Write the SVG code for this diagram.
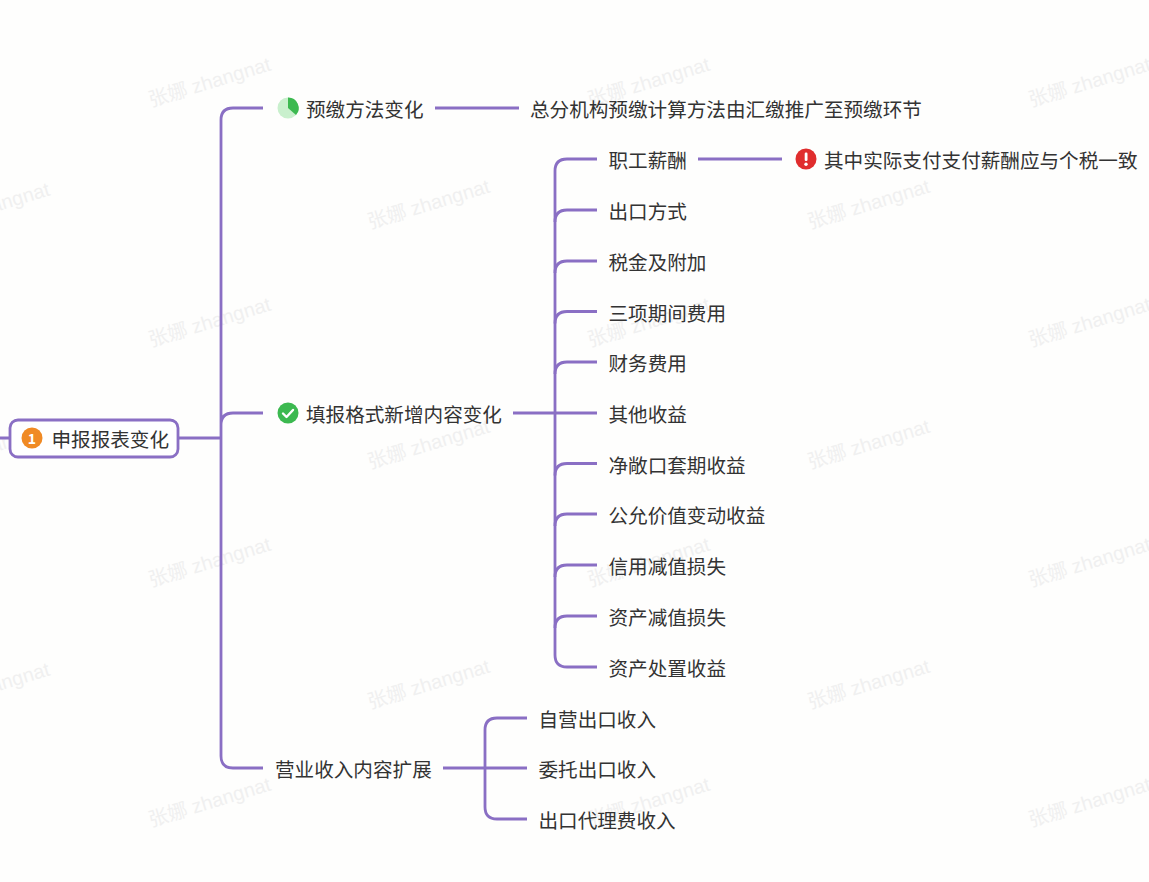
<svg xmlns="http://www.w3.org/2000/svg" width="1149" height="882" viewBox="0 0 1149 882">
<style>
text{font-family:"Noto Sans CJK SC","Liberation Sans",sans-serif}
.t{font-size:19.6px;fill:#333}
.w{font-size:19.8px;fill:#f0f0f0;font-family:"Liberation Sans","Noto Sans CJK SC",sans-serif}
.c{fill:none;stroke:#8a6fc4;stroke-width:2.8;stroke-linecap:butt}
</style>
<defs><text id="wm" class="w" transform="rotate(-17)">张娜 zhangnat</text></defs>
<rect width="1149" height="882" fill="#fefefd"/>
<g id="watermarks">
<use href="#wm" transform="translate(151 107)"/>
<use href="#wm" transform="translate(590 107)"/>
<use href="#wm" transform="translate(1031 107)"/>
<use href="#wm" transform="translate(-70 232)"/>
<use href="#wm" transform="translate(370 229)"/>
<use href="#wm" transform="translate(810 229)"/>
<use href="#wm" transform="translate(151 347)"/>
<use href="#wm" transform="translate(590 347)"/>
<use href="#wm" transform="translate(1031 347)"/>
<use href="#wm" transform="translate(370 469)"/>
<use href="#wm" transform="translate(810 469)"/>
<use href="#wm" transform="translate(-70 472)"/>
<use href="#wm" transform="translate(151 587)"/>
<use href="#wm" transform="translate(590 587)"/>
<use href="#wm" transform="translate(1031 587)"/>
<use href="#wm" transform="translate(-70 712)"/>
<use href="#wm" transform="translate(370 709)"/>
<use href="#wm" transform="translate(810 709)"/>
<use href="#wm" transform="translate(151 827)"/>
<use href="#wm" transform="translate(590 827)"/>
<use href="#wm" transform="translate(1031 827)"/>
</g>
<g id="connectors">
<path class="c" d="M0 438H9M179 438H221M263 108H233Q221 108 221 120V756Q221 768 233 768H263M263 413H233Q221 413 221 425"/>
<path class="c" d="M435 108H519M513 413H597M698 159H782"/>
<path class="c" d="M597 159H567Q555 159 555 171V655Q555 667 567 667H597"/>
<path class="c" d="M597 210H567Q555 210 555 222M597 261H567Q555 261 555 273M597 311.500H567Q555 311.500 555 323.500M597 362H567Q555 362 555 374M597 463.500H567Q555 463.500 555 475.500M597 514H567Q555 514 555 526M597 565H567Q555 565 555 577M597 616H567Q555 616 555 628"/>
<path class="c" d="M443 768H527M527 718H497Q485 718 485 730V807Q485 819 497 819H527"/>
</g>
<g id="root">
<rect x="10" y="420" width="168" height="37" rx="8" fill="#fff" stroke="#8a6fc4" stroke-width="2.800"/>
<circle cx="32" cy="438" r="10.500" fill="#f08a24"/>
<text x="32" y="443.500" text-anchor="middle" style="font-size:14px;font-weight:700;fill:#fff">1</text>
<text class="t" x="51.500" y="447">申报报表变化</text>
</g>
<g id="n-prepay">
<circle cx="288" cy="108" r="10.500" fill="#c9f0cd"/>
<path d="M288 108V97.500A10.500 10.500 0 0 1 296 115Z" fill="#3cb950"/>
<text class="t" x="306" y="117">预缴方法变化</text>
</g>
<g id="n-prepay-detail"><text class="t" x="530" y="117">总分机构预缴计算方法由汇缴推广至预缴环节</text></g>
<g id="n-format">
<circle cx="288" cy="413" r="10.500" fill="#3cb950"/>
<path d="M283 413.500L286.500 417L293 410" fill="none" stroke="#fff" stroke-width="2.400" stroke-linecap="round" stroke-linejoin="round"/>
<text class="t" x="306" y="422">填报格式新增内容变化</text>
</g>
<g id="n-revenue"><text class="t" x="275" y="777">营业收入内容扩展</text></g>
<g id="n1"><text class="t" x="608.500" y="168">职工薪酬</text></g>
<g id="n1a">
<circle cx="806" cy="159" r="10.500" fill="#e02d2d"/>
<rect x="804.700" y="152.500" width="2.800" height="8.500" rx="1.200" fill="#fff"/>
<circle cx="806" cy="164.200" r="1.700" fill="#fff"/>
<text class="t" x="824" y="168">其中实际支付支付薪酬应与个税一致</text>
</g>
<g id="n2"><text class="t" x="608.500" y="219">出口方式</text></g>
<g id="n3"><text class="t" x="608.500" y="270">税金及附加</text></g>
<g id="n4"><text class="t" x="608.500" y="320.500">三项期间费用</text></g>
<g id="n5"><text class="t" x="608.500" y="371">财务费用</text></g>
<g id="n6"><text class="t" x="608.500" y="422">其他收益</text></g>
<g id="n7"><text class="t" x="608.500" y="472.500">净敞口套期收益</text></g>
<g id="n8"><text class="t" x="608.500" y="523">公允价值变动收益</text></g>
<g id="n9"><text class="t" x="608.500" y="574">信用减值损失</text></g>
<g id="n10"><text class="t" x="608.500" y="625">资产减值损失</text></g>
<g id="n11"><text class="t" x="608.500" y="676">资产处置收益</text></g>
<g id="r1"><text class="t" x="538.500" y="727">自营出口收入</text></g>
<g id="r2"><text class="t" x="538.500" y="777">委托出口收入</text></g>
<g id="r3"><text class="t" x="538.500" y="828">出口代理费收入</text></g>
</svg>
